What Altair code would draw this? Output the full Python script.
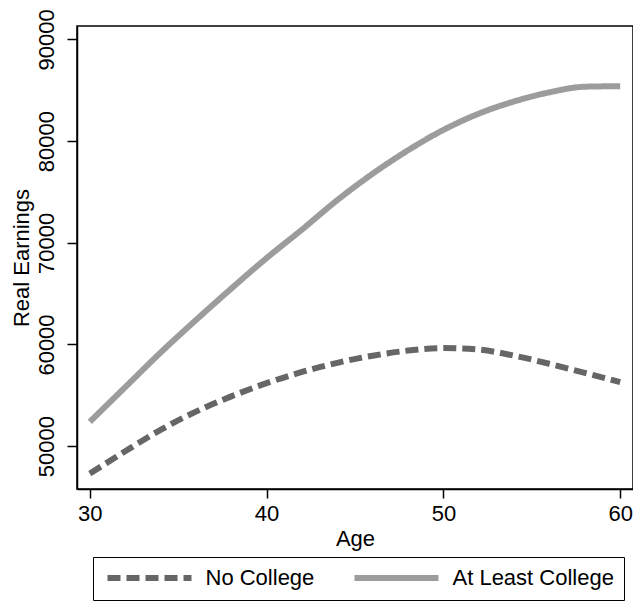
import altair as alt
import pandas as pd

ages = [30, 32, 34, 36, 38, 40, 42, 44, 46, 48, 50, 52, 54, 56, 58, 60]
no_college = [47300, 49500, 51600, 53400, 54900, 56200, 57300, 58200, 58900,
              59400, 59650, 59500, 58900, 58100, 57200, 56300]
at_least_college = [52400, 55800, 59200, 62400, 65500, 68500, 71300, 74200,
                    76800, 79100, 81100, 82700, 83900, 84800, 85350, 85400]
groups = ["No College", "At Least College"]
x_ticks = [30, 40, 50, 60]
y_ticks = [50000, 60000, 70000, 80000, 90000]

rows = []
for a, v in zip(ages, no_college):
    rows.append({"Age": a, "Earnings": v, "Group": groups[0]})
for a, v in zip(ages, at_least_college):
    rows.append({"Age": a, "Earnings": v, "Group": groups[1]})
df = pd.DataFrame(rows)

FONT = "Liberation Sans"
FS = 22

legend = alt.Legend(
    title=None,
    orient="none",
    legendX=16,
    legendY=531,
    direction="horizontal",
    symbolType="M-5.6,0H5.6",
    symbolSize=225,
    symbolStrokeWidth=6,
    symbolOffset=35.5,
    labelFont=FONT,
    labelFontSize=FS,
    labelColor="black",
    labelOffset=45,
    columnPadding=27,
    padding=10,
    strokeColor="black",
    fillColor="white",
    labelLimit=0,
)

chart = alt.Chart(df).mark_line(strokeWidth=6, strokeCap="butt", interpolate="monotone").encode(
    x=alt.X("Age:Q",
            scale=alt.Scale(domain=[29.275, 60.725], nice=False, zero=False),
            axis=alt.Axis(values=x_ticks, title="Age", tickSize=9,
                          labelPadding=5, titlePadding=4, format="d")),
    y=alt.Y("Earnings:Q",
            scale=alt.Scale(domain=[45790, 91320], nice=False, zero=False),
            axis=alt.Axis(values=y_ticks, title="Real Earnings", tickSize=10,
                          labelAngle=-90, labelPadding=9, titlePadding=2,
                          format="d")),
    color=alt.Color("Group:N",
                    scale=alt.Scale(domain=groups, range=["#666666", "#9c9c9c"]),
                    legend=legend),
    strokeDash=alt.StrokeDash("Group:N",
                              scale=alt.Scale(domain=groups, range=[[13, 6], [1, 0]]),
                              legend=legend),
    order=alt.Order("Age:Q"),
).properties(
    width=556,
    height=463,
    padding={"left": 1, "top": 0, "right": 0, "bottom": 0},
).configure_view(
    stroke="black",
    strokeWidth=1.5,
).configure_axis(
    domainColor="black",
    tickColor="black",
    tickWidth=1.5,
    domainWidth=1.5,
    labelFont=FONT,
    titleFont=FONT,
    labelFontSize=FS,
    titleFontSize=FS,
    titleFontWeight="normal",
    labelColor="black",
    titleColor="black",
    grid=False,
)

chart.save("out.html", embed_options={"renderer": "svg", "actions": False})
